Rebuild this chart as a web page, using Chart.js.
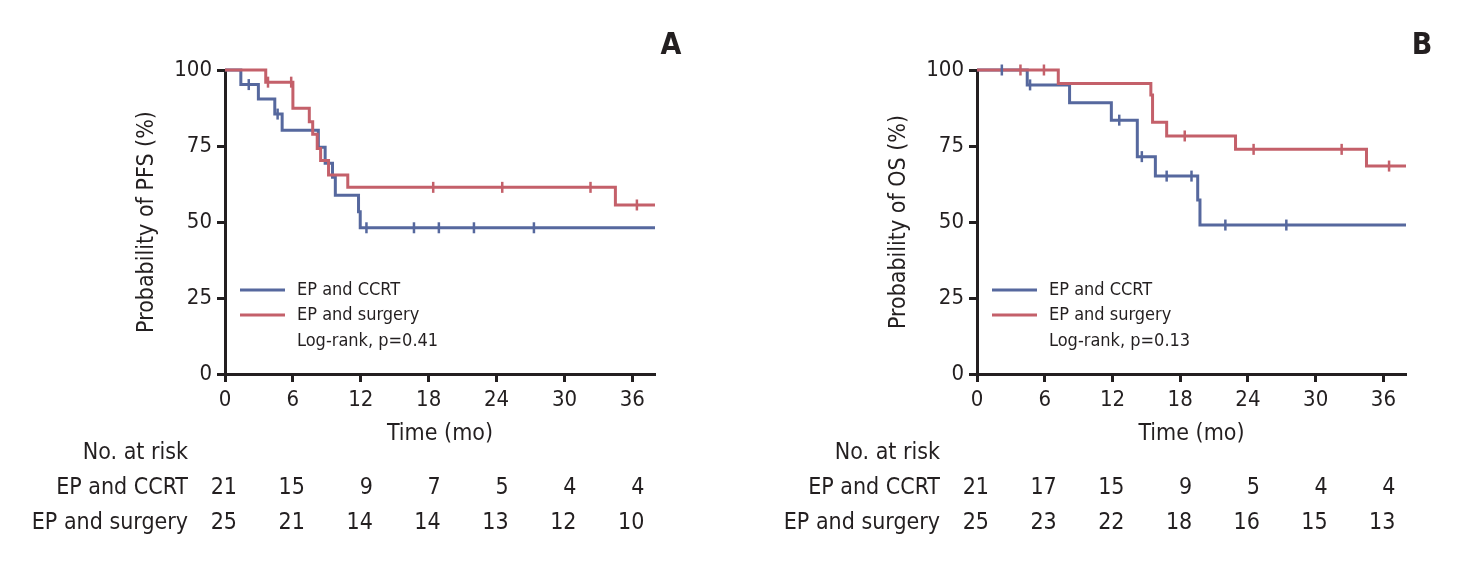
<!DOCTYPE html>
<html>
<head>
<meta charset="utf-8">
<script src="https://cdn.jsdelivr.net/npm/chart.js@4.4.1/dist/chart.umd.min.js"></script>
<style>
html, body { margin: 0; padding: 0; background: #fff; }
#wrap { position: relative; width: 1463px; height: 568px; overflow: hidden; }
#wrap canvas { position: absolute; top: 0; }
</style>
</head>
<body>
<div id="wrap">
  <canvas id="pfs" width="732" height="568" style="left:0"></canvas>
  <canvas id="os" width="731" height="568" style="left:732px"></canvas>
</div>
<script>
// ---- data ----
const xTicks = [0, 6, 12, 18, 24, 30, 36];
const yTicks = [0, 25, 50, 75, 100];
const groups = ['EP and CCRT', 'EP and surgery'];

// A: progression-free survival
const pfsCcrtTime = [0, 1.4, 2.95, 4.4, 5.05, 8.25, 8.85, 9.5, 9.75, 11.8, 11.95, 38];
const pfsCcrtSurv = [100, 95.2, 90.5, 85.5, 80.2, 74.6, 69.3, 64.7, 58.8, 53.4, 48.1, 48.1];
const pfsCcrtCens = [2.1, 4.65, 12.5, 16.7, 18.9, 22.0, 27.3];
const pfsSurgTime = [0, 3.6, 6.0, 7.45, 7.75, 8.15, 8.45, 9.15, 10.85, 34.5, 38];
const pfsSurgSurv = [100, 96.0, 87.4, 83.0, 78.9, 74.2, 70.2, 65.5, 61.4, 55.6, 55.6];
const pfsSurgCens = [3.8, 5.85, 18.4, 24.5, 32.3, 36.4];
const pfsRiskCcrt = [21, 15, 9, 7, 5, 4, 4];
const pfsRiskSurg = [25, 21, 14, 14, 13, 12, 10];

// B: overall survival
const osCcrtTime = [0, 4.45, 8.2, 11.9, 14.2, 15.8, 19.55, 19.75, 38];
const osCcrtSurv = [100, 95.1, 89.2, 83.5, 71.5, 65.1, 57.2, 49.0, 49.0];
const osCcrtCens = [2.2, 4.7, 12.6, 14.6, 16.8, 19.0, 22.0, 27.4];
const osSurgTime = [0, 7.2, 15.4, 15.55, 16.8, 22.9, 34.5, 38];
const osSurgSurv = [100, 95.6, 91.8, 82.8, 78.3, 73.9, 68.4, 68.4];
const osSurgCens = [3.85, 5.93, 18.4, 24.5, 32.3, 36.5];
const osRiskCcrt = [21, 17, 15, 9, 5, 4, 4];
const osRiskSurg = [25, 23, 22, 18, 16, 15, 13];

const INK = '#231f20';
const BLUE = '#56689e';
const RED = '#c4606a';
const FONT = "'Liberation Sans Narrow', 'DejaVu Sans Condensed', 'Roboto Condensed', sans-serif";

Chart.defaults.font.family = FONT;
Chart.defaults.color = INK;

function survAt(times, surv, t) {
  let v = surv[0];
  for (let i = 0; i < times.length; i++) if (times[i] <= t) v = surv[i];
  return v;
}
function stepPts(times, surv) {
  return times.map((t, i) => ({x: t, y: surv[i]}));
}
function censPts(times, surv, cens) {
  return cens.map(t => ({x: t, y: survAt(times, surv, t)}));
}

function kmSets(ccrtT, ccrtS, ccrtC, surgT, surgS, surgC) {
  const line = (d, c, o) => ({data: d, borderColor: c, borderWidth: 3, stepped: true,
    pointRadius: 0, fill: false, order: o, clip: false, borderCapStyle: 'butt'});
  const cens = (d, c) => ({data: d, showLine: false, pointStyle: 'line', rotation: 90,
    pointRadius: 5.5, pointBorderWidth: 2.5, pointBorderColor: c, pointBackgroundColor: c,
    order: 0, clip: false});
  return [
    line(stepPts(surgT, surgS), RED, 1),
    line(stepPts(ccrtT, ccrtS), BLUE, 2),
    cens(censPts(surgT, surgS, surgC), RED),
    cens(censPts(ccrtT, ccrtS, ccrtC), BLUE)
  ];
}

const kmExtras = {
  id: 'kmExtras',
  afterDraw(chart, args, opts) {
    const {ctx, chartArea} = chart;
    const x = chart.scales.x;
    const left = chartArea.left;
    ctx.save();
    ctx.fillStyle = INK;
    ctx.textBaseline = 'middle';

    ctx.font = 'bold 30px ' + FONT;
    ctx.textAlign = 'center';
    ctx.fillText(opts.letter, chartArea.right + 16, 46);

    // legend inside plot
    ctx.font = '18px ' + FONT;
    ctx.textAlign = 'left';
    [BLUE, RED].forEach((c, i) => {
      const y = 290 + i * 25;
      ctx.strokeStyle = c;
      ctx.lineWidth = 3;
      ctx.beginPath();
      ctx.moveTo(left + 15, y);
      ctx.lineTo(left + 60, y);
      ctx.stroke();
      ctx.fillText(groups[i], left + 72, y);
    });
    ctx.fillText(opts.pText, left + 72, 341);

    // number at risk
    ctx.font = '23px ' + FONT;
    ctx.textAlign = 'right';
    ctx.fillText('No. at risk', left - 37, 453);
    opts.risk.forEach((row, i) => {
      const y = 488 + i * 35;
      ctx.fillText(groups[i], left - 37, y);
      row.forEach((n, j) => ctx.fillText(String(n), x.getPixelForValue(xTicks[j]) + 12, y));
    });
    ctx.restore();
  }
};

function makeChart(id, padL, padR, yTitle, sets, extras) {
  return new Chart(document.getElementById(id), {
    type: 'line',
    data: {datasets: sets},
    options: {
      responsive: false,
      animation: false,
      layout: {padding: {left: padL, right: padR, top: 70, bottom: 118}},
      plugins: {legend: {display: false}, tooltip: {enabled: false}, kmExtras: extras},
      scales: {
        x: {
          type: 'linear', min: 0, max: 38,
          afterBuildTicks: s => { s.ticks = xTicks.map(v => ({value: v})); },
          afterFit: s => { s.height = 76; },
          ticks: {font: {size: 22}, color: INK, padding: 5, maxRotation: 0, autoSkip: false},
          grid: {display: true, drawOnChartArea: false, drawTicks: true, tickLength: 8, tickWidth: 3, tickColor: INK},
          border: {display: true, width: 3, color: INK},
          title: {display: true, text: 'Time (mo)', font: {size: 23}, color: INK, padding: {top: 0, bottom: 2}}
        },
        y: {
          type: 'linear', min: 0, max: 100,
          afterBuildTicks: s => { s.ticks = yTicks.map(v => ({value: v})); },
          afterFit: s => { s.width = 94; },
          ticks: {font: {size: 22}, color: INK, padding: 5, autoSkip: false},
          grid: {display: true, drawOnChartArea: false, drawTicks: true, tickLength: 8, tickWidth: 3, tickColor: INK},
          border: {display: true, width: 3, color: INK},
          title: {display: true, text: yTitle, font: {size: 23}, color: INK, padding: {top: 2, bottom: 0}}
        }
      }
    },
    plugins: [kmExtras]
  });
}

makeChart('pfs', 131, 77, 'Probability of PFS (%)',
  kmSets(pfsCcrtTime, pfsCcrtSurv, pfsCcrtCens, pfsSurgTime, pfsSurgSurv, pfsSurgCens),
  {letter: 'A', pText: 'Log-rank, p=0.41', risk: [pfsRiskCcrt, pfsRiskSurg]});

makeChart('os', 151, 57, 'Probability of OS (%)',
  kmSets(osCcrtTime, osCcrtSurv, osCcrtCens, osSurgTime, osSurgSurv, osSurgCens),
  {letter: 'B', pText: 'Log-rank, p=0.13', risk: [osRiskCcrt, osRiskSurg]});
</script>
</body>
</html>
